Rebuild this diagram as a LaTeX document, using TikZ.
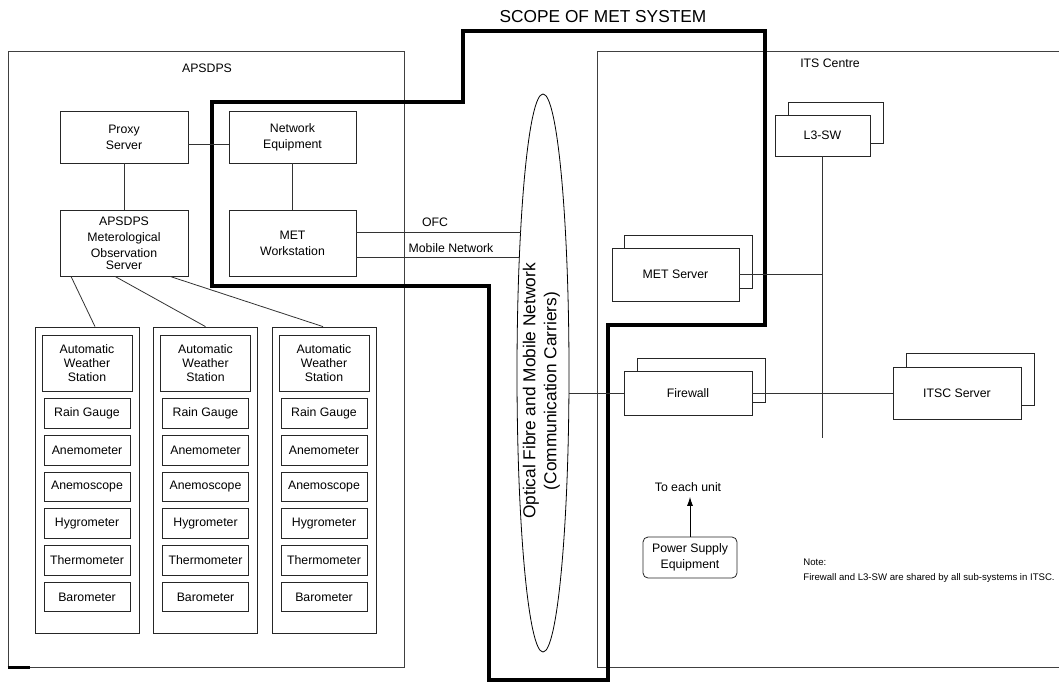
\documentclass[tikz,border=0pt]{standalone}
\usepackage{fontspec}
\setmainfont{Liberation Sans}
\usetikzlibrary{shapes.geometric,arrows.meta}
\begin{document}
\begin{tikzpicture}[x=1pt,y=-1pt,
  line width=0.8pt,
  every node/.style={font=\fontsize{12.3}{16}\selectfont, inner sep=0pt, align=center},
  box/.style={draw=black!85, fill=white, rectangle},
  frame/.style={draw=black!75, rectangle},
  wire/.style={draw=black!80},
  scopeline/.style={draw=black, line width=4pt, line join=miter},
  awsfont/.style={font=\fontsize{12.3}{13.6}\selectfont},
  notefont/.style={font=\fontsize{9.6}{12}\selectfont},
  arrowline/.style={draw=black, -{Latex[length=9pt,width=6pt]}}
]
\useasboundingbox (0,0) rectangle (1059,682);
\clip (0,0) rectangle (1059,682);

% ---- containers ----
\node[frame, minimum width=396, minimum height=616] (apsdps) at (206,359) {};
\node (apsdpstitle) at (207,68) {APSDPS};
\draw[line width=2.5pt] (apsdps.south west) -- ++(22,0);
\node[frame, minimum width=500, minimum height=616] (its) at (847,359) {};
\node (itstitle) at (830,63) {ITS Centre};

% ---- scope of the MET system ----
\node[font=\fontsize{17.3}{20}\selectfont] (scopetitle) at (603,17) {SCOPE OF MET SYSTEM};
\draw[scopeline] (212,102) -- (463,102) -- (463,31) -- (765,31) -- (765,325)
  -- (607.5,325) -- (607.5,680) -- (488.5,680) -- (488.5,285.5) -- (212,285.5) -- cycle;

% ---- APSDPS side ----
\node[box, minimum width=128, minimum height=52] (proxy) at (124,137) {Proxy\\Server};
\node[box, minimum width=127, minimum height=52] (neteq) at (292.5,137) {Network\\Equipment};
\node[box, minimum width=128, minimum height=66] (aposrv) at (124,243)
  {APSDPS\\Meterological\\Observation\\[-4pt]Server};
\node[box, minimum width=127, minimum height=66] (metws) at (292.5,243) {MET\\Workstation};

\foreach \i/\cx in {1/87,2/205.5,3/324} {
  \node[box, minimum width=104, minimum height=306] (g\i) at (\cx,480) {};
  \node[box, awsfont, minimum width=90, minimum height=56] (aws\i) at (\cx,363)
    {Automatic\\Weather\\Station};
  \foreach \j/\lab in {0/Rain Gauge,1/Anemometer,2/Anemoscope,3/Hygrometer,4/Thermometer,5/Barometer} {
    \node[box, minimum width=86, minimum height=29.5] (s\i-\j) at (\cx,{413.5+36.7*\j}) {\lab};
  }
}

% ---- carriers ----
\node[draw=black, ellipse, minimum width=52, minimum height=558] (carrier) at (543,373) {};
\node[rotate=90, font=\fontsize{17.3}{21}\selectfont] (carrierlabel) at (541.5,391)
  {Optical Fibre and Mobile Network\\(Communication Carriers)};

% ---- ITS Centre side ----
\node[box, minimum width=95, minimum height=41] (l3b) at (835.5,122.5) {};
\node[box, minimum width=95, minimum height=41] (l3) at (822.5,135.5) {L3-SW};
\node[box, minimum width=128, minimum height=53] (metsrvb) at (688,261.5) {};
\node[box, minimum width=127, minimum height=53] (metsrv) at (675.5,274.5) {MET Server};
\node[box, minimum width=128, minimum height=44] (fwb) at (701,380) {};
\node[box, minimum width=128, minimum height=44] (fw) at (688,393) {Firewall};
\node[box, minimum width=128, minimum height=52] (itscb) at (970,379) {};
\node[box, minimum width=128, minimum height=52] (itsc) at (957,393) {ITSC Server};
\node[box, rounded corners=5pt, minimum width=94, minimum height=41] (pse) at (690,557.5)
  {Power Supply\\Equipment};
\node (toeach) at (688,487) {To each unit};
\node[notefont, anchor=west] (notehead) at (803,562) {Note:};
\node[notefont, anchor=west] (notebody) at (803,578)
  {Firewall and L3-SW are shared by all sub-systems in ITSC.};

\coordinate (busend) at (822.5,438);
\coordinate (ofcend) at (520.5,232);
\coordinate (mobend) at (519.5,257);

% ---- connectors ----
\draw[wire] ([yshift=-7pt]proxy.east) -- ([yshift=-7pt]neteq.west);
\draw[wire] (proxy.south) -- (aposrv.north);
\draw[wire] (neteq.south) -- (metws.north);
\draw[wire] ([xshift=-53pt]aposrv.south) -- ([xshift=8pt]g1.north);
\draw[wire] ([xshift=-9pt]aposrv.south) -- (g2.north);
\draw[wire] ([xshift=46pt]aposrv.south) -- ([xshift=-1pt]g3.north);
\draw[wire] (metws.east |- ofcend) -- (ofcend);
\draw[wire] (metws.east |- mobend) -- (mobend);
\node (ofclabel) at (435,222) {OFC};
\node (moblabel) at (451,248) {Mobile Network};

\draw[wire] (l3.south) -- (busend);
\draw[wire] (metsrv.east) -- (metsrv.east -| l3.south);
\draw[wire] (carrier.east |- fw.west) -- (fw.west);
\draw[wire] (fw.east) -- (itsc.west);
\draw[arrowline] (pse.north) -- ([yshift=-5pt]pse.north |- toeach.south);
\end{tikzpicture}
\end{document}
